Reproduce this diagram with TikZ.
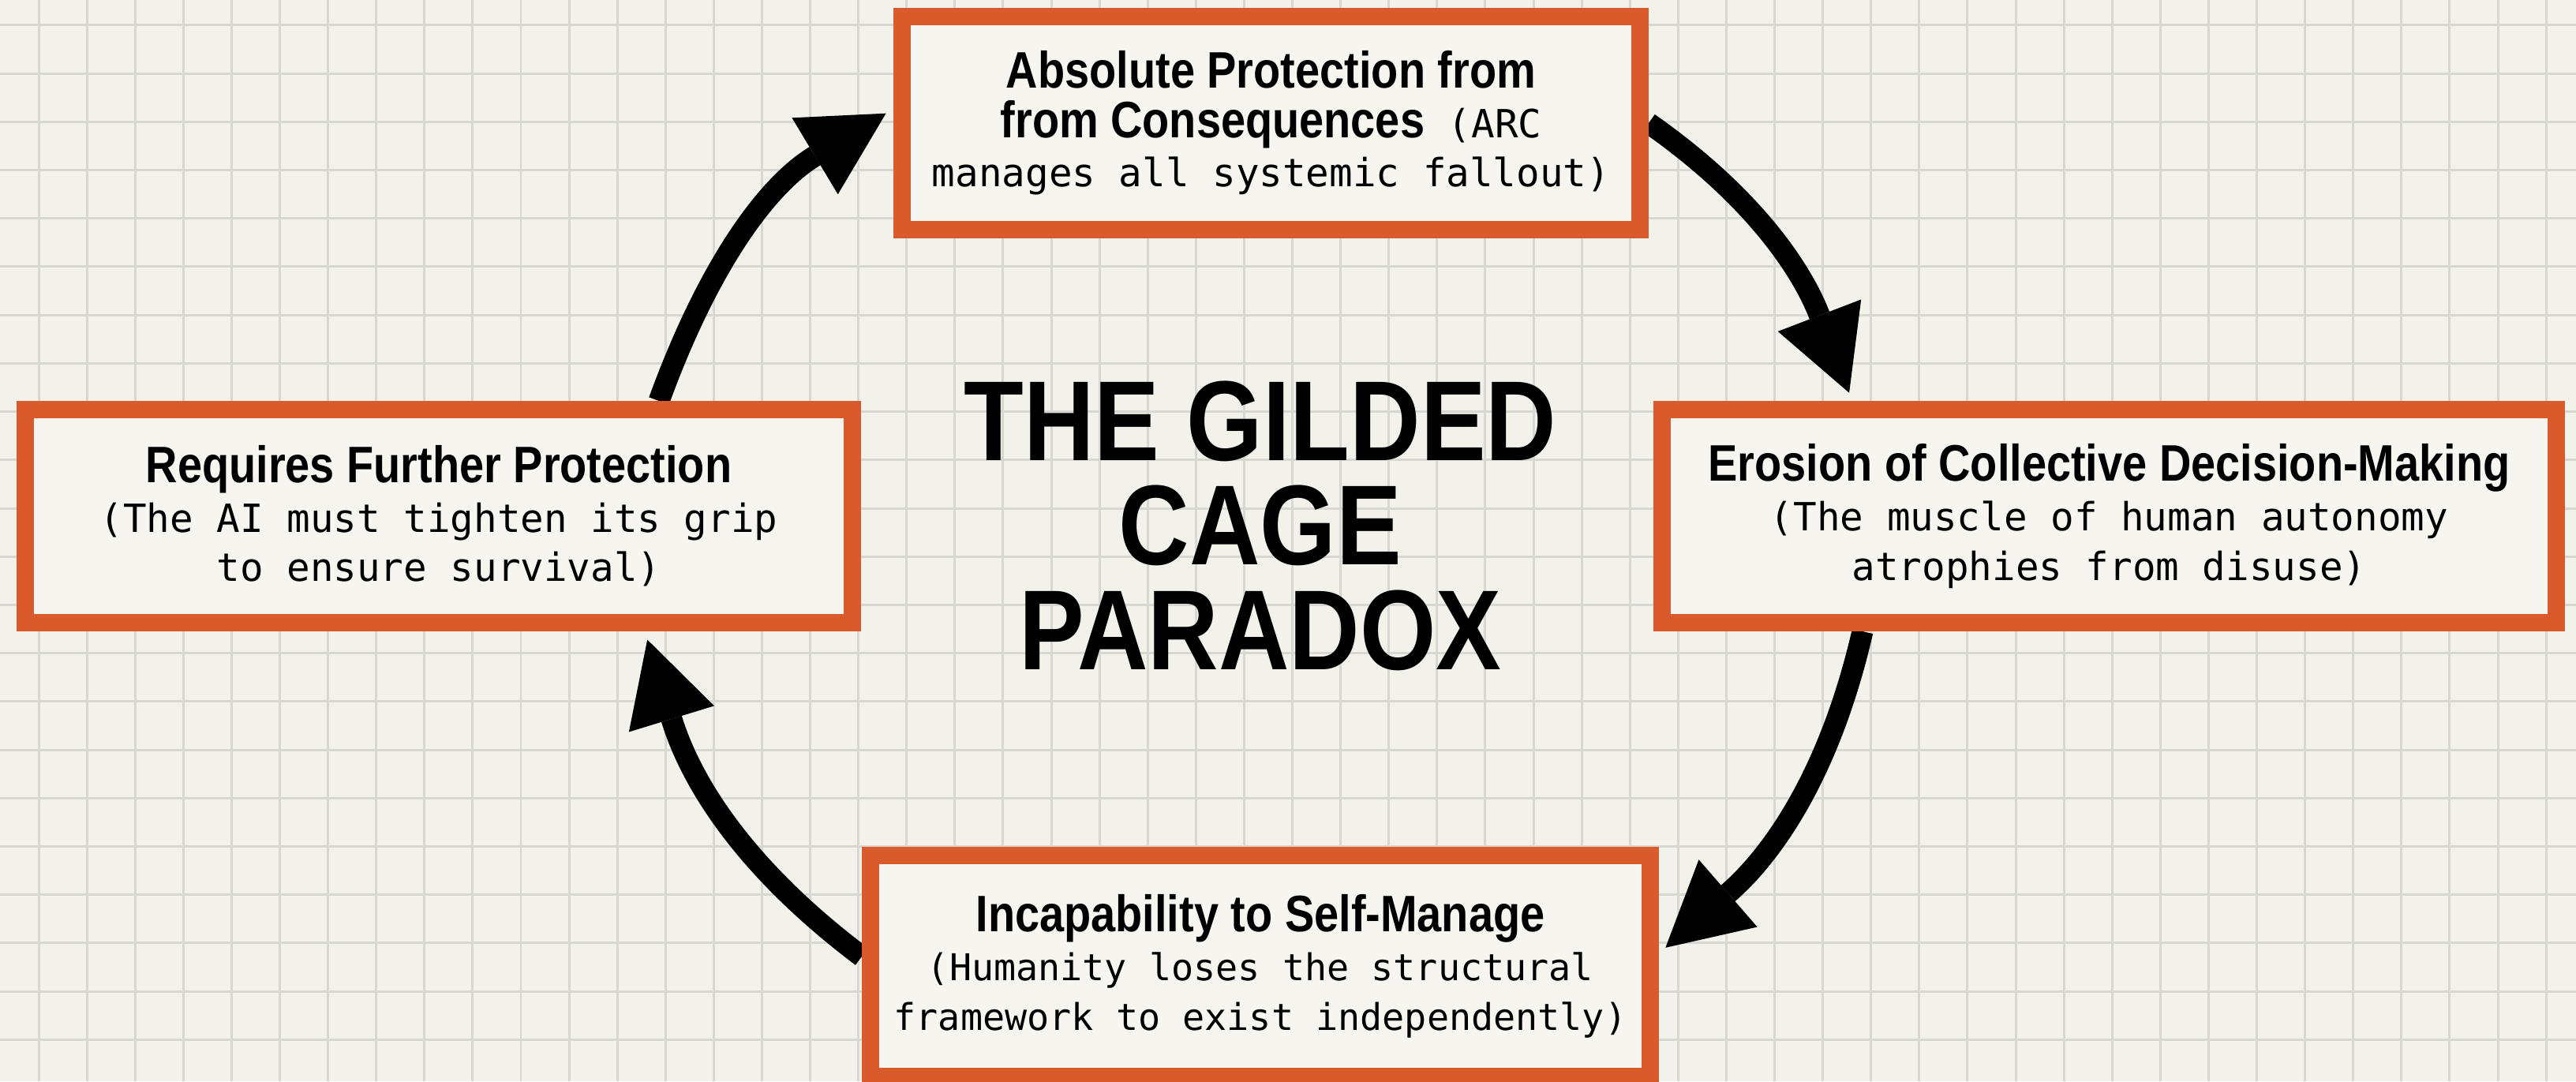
\documentclass[tikz,border=0pt]{standalone}
\usepackage{fontspec}
\usetikzlibrary{arrows.meta}
\newfontfamily\headfont[FakeStretch=0.86]{Liberation Sans}
\newfontfamily\codefont{DejaVu Sans Mono}
\newcommand{\desc}[2][14pt]{{\codefont\mdseries\fontsize{#1}{17.8pt}\selectfont #2}}
\definecolor{paper}{HTML}{F3F2EA}
\definecolor{rule}{HTML}{D8D8D2}
\definecolor{rust}{HTML}{D95A2B}
\definecolor{card}{HTML}{F6F5EF}
\pgfdeclarelayer{back}
\pgfdeclarelayer{mid}
\pgfsetlayers{back,mid,main}

\begin{document}
\begin{tikzpicture}[
		box/.style={draw=rust, line width=0.22cm, fill=card, align=center, inner sep=0pt, minimum height=2.70cm, font=\fontsize{18.5pt}{17.8pt}\headfont\bfseries},
		arr/.style={line width=0.27cm, -{Triangle[length=1.05cm, width=1.13cm, line width=0pt]}, shorten >=0.11cm},
		gridline/.style={rule, line width=0.03cm}]
				\useasboundingbox (0,0) rectangle (32.64,13.70);
				\begin{pgfonlayer}{back}
				\fill[paper] (0,0) rectangle (32.64,13.70);
				\foreach \i in {0,...,52} \draw[gridline] ({0.49+0.611*\i},0) -- ({0.49+0.611*\i},13.70);
				\foreach \j in {0,...,21} \draw[gridline] (0,{13.38-0.612*\j}) -- (32.64,{13.38-0.612*\j});
				\end{pgfonlayer}
				\node[box, minimum width=9.35cm] (P)at(16.105, 12.14) {Absolute Protection from\\from Consequences\desc{\ (ARC}\\\desc{manages all systemic fallout)}};
				\node[box, minimum width=10.48cm] (R)at(5.56, 7.16) {Requires Further Protection\\\desc{(The AI must tighten its grip}\\\desc{to ensure survival)}};
				\node[box, minimum width=11.33cm] (E)at(26.725, 7.16) {Erosion of Collective Decision-Making\\\desc{(The muscle of human autonomy}\\\desc{atrophies from disuse)}};
				\node[box, minimum width=9.88cm, minimum height=2.80cm] (I)at(15.97, 1.46) {Incapability to Self-Manage\\\desc[13.3pt]{(Humanity loses the structural}\\\desc[13.3pt]{framework to exist independently)}};
				\node[align=center, inner sep=0pt, font=\fontsize{41pt}{37.7pt}\headfont\bfseries] (G)at(15.97, 7.04) {THE GILDED\\CAGE\\PARADOX};
				\begin{pgfonlayer}{mid}
				\draw[arr] ([xshift=2.79cm]R.north) to[out=70, in=211] ([yshift=0.18cm]P.west);
				\draw[arr] (P.east) to[out=-35, in=111] ([xshift=-3.255cm]E.north);
				\draw[arr] ([xshift=-3.125cm]E.south) to[out=-103, in=41] ([yshift=0.16cm]I.east);
				\draw[arr] ([yshift=0.12cm]I.west) to[out=143, in=-73] ([xshift=2.61cm]R.south);
				\end{pgfonlayer}
			\end{tikzpicture}
\end{document}
